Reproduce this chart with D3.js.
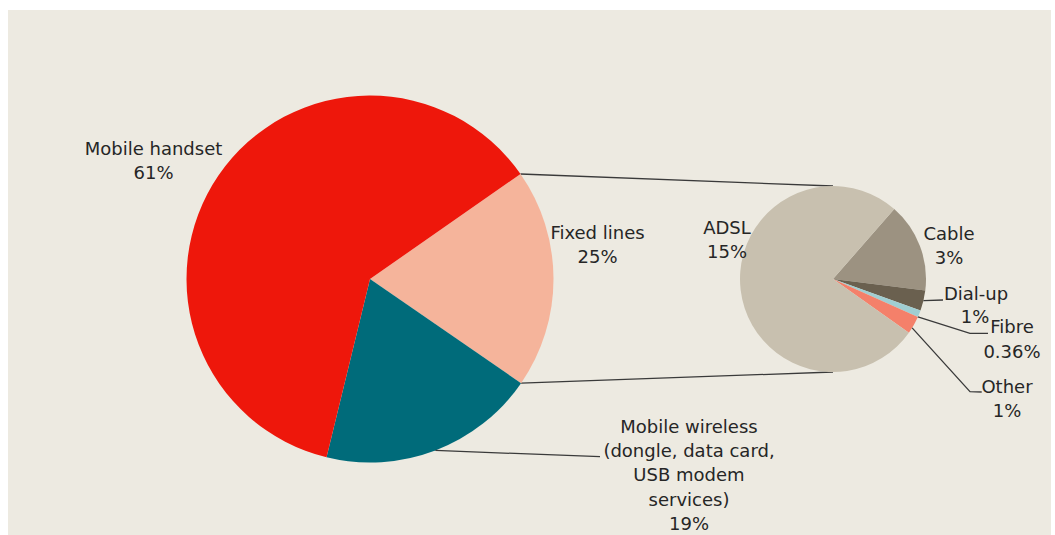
<!DOCTYPE html>
<html>
<head>
<meta charset="utf-8">
<script src="https://cdn.jsdelivr.net/npm/d3@7"></script>
<style>
  html, body { margin: 0; padding: 0; background: #fff; }
  svg text { font-family: "DejaVu Sans", sans-serif; font-size: 18px; fill: #262626; }
</style>
</head>
<body>
<div id="chart"></div>
<script>
// main pie: fixed lines, mobile wireless, mobile handset (share of drawn angle)
var mainNames = ['Fixed lines', 'Mobile wireless', 'Mobile handset']
var mainShares = [19.3, 19.2, 61.5]
var mainPctText = ['25%', '19%', '61%']
var mainColors = ['#f5b49b', '#006b7a', '#ee170b']

// breakdown of fixed lines
var subNames = ['Cable', 'Dial-up', 'Fibre', 'Other', 'ADSL']
var subShares = [3.0, 0.68, 0.23, 0.6, 14.8]
var subPctText = ['3%', '1%', '0.36%', '1%', '15%']
var subColors = ['#9c9281', '#6a604f', '#a0ced2', '#f4806a', '#c8c0af']

var W = 1055, H = 535
var deg = Math.PI / 180

var svg = d3.select('#chart').append('svg')
  .attr('width', W)
  .attr('height', H)

// beige panel
svg.append('rect')
  .attr('x', 8).attr('y', 10)
  .attr('width', 1043).attr('height', H - 10)
  .attr('fill', '#edeae1')

var main = { cx: 370, cy: 279, r: 183.5 }
var sub = { cx: 833, cy: 279, r: 93 }

var mainPie = d3.pie().sort(null).startAngle(55.1 * deg).endAngle(55.1 * deg + 2 * Math.PI)
var subPie = d3.pie().sort(null).startAngle(41.2 * deg).endAngle(41.2 * deg + 2 * Math.PI)

var mainArcs = mainPie(mainShares)
var subArcs = subPie(subShares)

var mainArc = d3.arc().innerRadius(0).outerRadius(main.r)
var subArc = d3.arc().innerRadius(0).outerRadius(sub.r)

function onCircle(c, r, a) {
  return [c.cx + r * Math.sin(a), c.cy - r * Math.cos(a)]
}

// connector lines between fixed lines slice and the second pie
var fixed = mainArcs[0]
var p1 = onCircle(main, main.r, fixed.startAngle)
var p2 = onCircle(main, main.r, fixed.endAngle)
svg.append('g')
  .selectAll('line')
  .data([[p1, [sub.cx, sub.cy - sub.r]], [p2, [sub.cx, sub.cy + sub.r]]])
  .enter()
  .append('line')
  .attr('x1', function(d) { return d[0][0] })
  .attr('y1', function(d) { return d[0][1] })
  .attr('x2', function(d) { return d[1][0] })
  .attr('y2', function(d) { return d[1][1] })
  .attr('stroke', '#3a3a3a')
  .attr('stroke-width', 1.3)

svg.append('g')
  .attr('transform', 'translate(' + main.cx + ',' + main.cy + ')')
  .selectAll('path')
  .data(mainArcs)
  .enter()
  .append('path')
  .attr('d', mainArc)
  .attr('fill', function(d, i) { return mainColors[i] })

svg.append('g')
  .attr('transform', 'translate(' + sub.cx + ',' + sub.cy + ')')
  .selectAll('path')
  .data(subArcs)
  .enter()
  .append('path')
  .attr('d', subArc)
  .attr('fill', function(d, i) { return subColors[i] })

// leader lines: start on the rim of the slice
function mid(d) { return (d.startAngle + d.endAngle) / 2 }
var leaders = [
  { from: onCircle(main, main.r, mid(mainArcs[1])), pts: [[600, 456.7]] },
  { from: onCircle(sub, sub.r, mid(subArcs[1])), pts: [[943, 300]] },
  { from: onCircle(sub, sub.r, subArcs[2].endAngle), pts: [[970, 333.3], [988, 333.3]] },
  { from: onCircle(sub, sub.r, mid(subArcs[3]) + 2 * deg), pts: [[970, 391.7], [981.7, 392]] }
]
svg.append('g')
  .selectAll('path')
  .data(leaders)
  .enter()
  .append('path')
  .attr('d', function(d) { return d3.line()([d.from].concat(d.pts)) })
  .attr('fill', 'none')
  .attr('stroke', '#3a3a3a')
  .attr('stroke-width', 1.3)

// labels
var labelLayout = [
  { pct: mainPctText[2], x: 153.5, y: 155, lines: [mainNames[2]] },
  { pct: mainPctText[0], x: 597.5, y: 239, lines: [mainNames[0]] },
  { pct: mainPctText[1], x: 689, y: 433, lines: [mainNames[1], '(dongle, data card,', 'USB modem', 'services)'] },
  { pct: subPctText[4], x: 727, y: 234, lines: [subNames[4]] },
  { pct: subPctText[0], x: 949, y: 240, lines: [subNames[0]] },
  { pct: subPctText[1], x: 976, y: 300, lines: [subNames[1]], pctDx: -1, pctDy: 23 },
  { pct: subPctText[2], x: 1012, y: 333.3, lines: [subNames[2]] },
  { pct: subPctText[3], x: 1007, y: 392.7, lines: [subNames[3]] }
]
var lineH = 24.2

labelLayout.forEach(function(l) {
  var t = svg.append('text')
    .attr('text-anchor', 'middle')
  l.lines.forEach(function(s, i) {
    t.append('tspan')
      .attr('x', l.x)
      .attr('y', l.y + i * lineH)
      .text(s)
  })
  t.append('tspan')
    .attr('x', l.x + (l.pctDx || 0))
    .attr('y', l.y + (l.pctDy || l.lines.length * lineH))
    .text(l.pct)
})
</script>
</body>
</html>
